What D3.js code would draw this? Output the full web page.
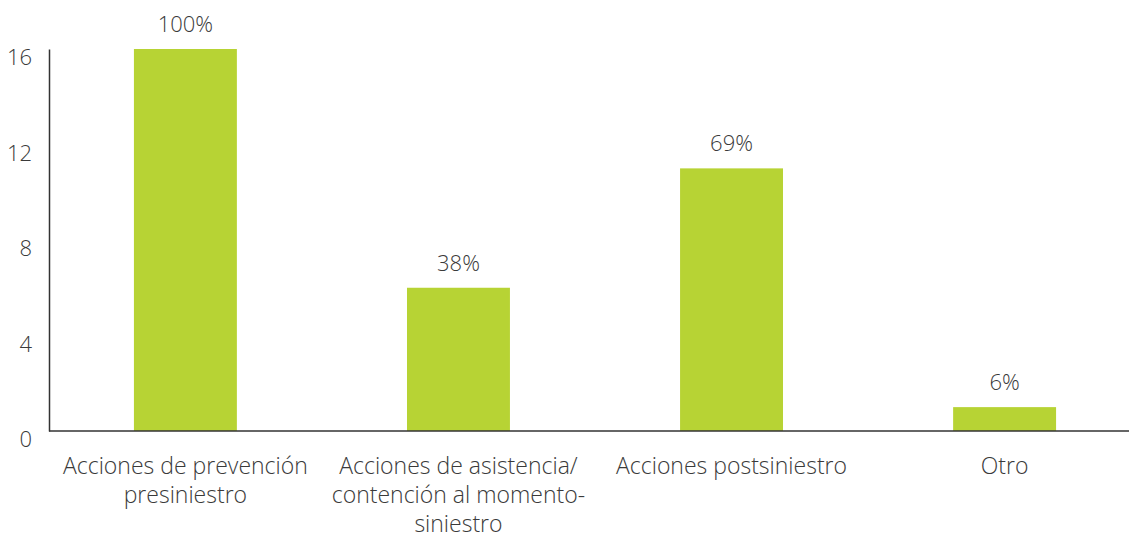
<!DOCTYPE html>
<html><head><meta charset="utf-8">
<script src="https://cdn.jsdelivr.net/npm/d3@7"></script>
<style>body{margin:0;background:#fff;} text{font-family:"Open Sans",sans-serif;font-weight:300;}</style>
</head><body>
<svg id="c" width="1129" height="533"></svg>
<script>
const categories = ["Acciones de prevención presiniestro","Acciones de asistencia/ contención al momento-siniestro","Acciones postsiniestro","Otro"];
const categoryLines = [["Acciones de prevención","presiniestro"],["Acciones de asistencia/","contención al momento-","siniestro"],["Acciones postsiniestro"],["Otro"]];
const values = [16, 6, 11, 1];
const valueLabels = ["100%","38%","69%","6%"];
const yTicks = [0,4,8,12,16];

(function(){
const svg = d3.select("#c");
const mLeft = 49, mBottom = 431, mTop = 49;
const x = d3.scaleBand().domain(categories).range([mLeft, mLeft + 4*273]).paddingInner(0.623).paddingOuter(0.311);
const y = d3.scaleLinear().domain([0,16]).range([mBottom, mTop]);

svg.selectAll("rect.bar").data(values).join("rect")
  .attr("x",(d,i)=>x(categories[i])).attr("width",x.bandwidth())
  .attr("y",d=>y(d)).attr("height",d=>mBottom-y(d)).attr("fill","#b7d334");

svg.selectAll("text.vl").data(values).join("text")
  .attr("x",(d,i)=>x(categories[i])+x.bandwidth()/2).attr("y",d=>y(d)-17)
  .attr("text-anchor","middle").attr("font-size",22).attr("fill","#3a3a3a")
  .text((d,i)=>valueLabels[i]);

const yAxis = svg.append("g").attr("transform",`translate(${mLeft},0)`)
  .call(d3.axisLeft(y).tickValues(yTicks).tickSize(0).tickPadding(17));
yAxis.select(".domain").attr("stroke","#333").attr("stroke-width",1.5);
yAxis.selectAll("text").attr("font-size",22).attr("fill","#3a3a3a").attr("font-family","Open Sans").attr("font-weight",300).attr("dy","0.62em").attr("transform","translate(0,2)");

svg.append("line").attr("x1",mLeft).attr("x2",1129).attr("y1",mBottom).attr("y2",mBottom).attr("stroke","#333").attr("stroke-width",1.5);

const g = svg.selectAll("text.cat").data(categoryLines).join("text")
  .attr("text-anchor","middle").attr("font-size",23).attr("fill","#3a3a3a");
g.each(function(lines,i){
  const t = d3.select(this);
  lines.forEach((l,j)=>t.append("tspan").attr("x",x(categories[i])+x.bandwidth()/2).attr("y",474+j*29).text(l));
});
})();
</script>
</body></html>
